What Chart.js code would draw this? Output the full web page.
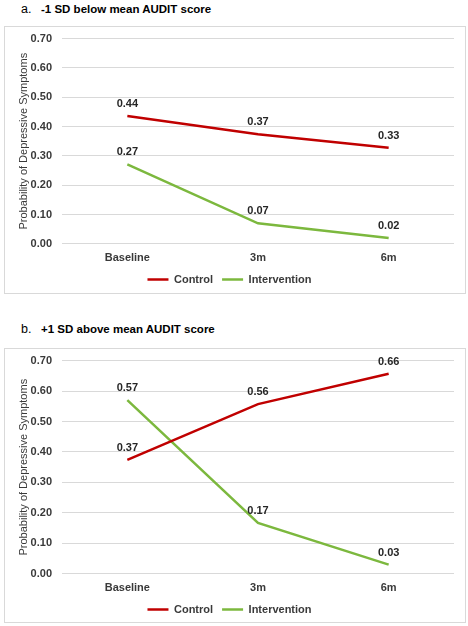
<!DOCTYPE html>
<html>
<head>
<meta charset="utf-8">
<script src="https://cdn.jsdelivr.net/npm/chart.js@4/dist/chart.umd.min.js"></script>
<style>
    body { margin: 0; background: #ffffff; font-family: "Liberation Sans", Arial, sans-serif; }
    #page { position: relative; width: 468px; height: 626px; }
    .panel-title { position: absolute; left: 21px; font-size: 11.5px; font-weight: bold; color: #000; white-space: pre; }
    .panel-title span { font-weight: normal; font-size: 12.5px; }
    .box { position: absolute; left: 4px; width: 460px; border: 1px solid #d9d9d9; }
    canvas { position: absolute; left: 5px; display: block; }
</style>
</head>
<body>
<div id="page">
    <div class="panel-title" style="top: 2px;"><span>a.</span>   -1 SD below mean AUDIT score</div>
    <div class="box" style="top: 26px; height: 266px;"></div>
    <canvas id="chartA" width="460" height="269" style="top: 22px;"></canvas>

    <div class="panel-title" style="top: 322px;"><span>b.</span>   +1 SD above mean AUDIT score</div>
    <div class="box" style="top: 348px; height: 273px;"></div>
    <canvas id="chartB" width="460" height="277" style="top: 344px;"></canvas>
</div>

<script>
// Data
const timepoints = ["Baseline", "3m", "6m"];
const yTicks = [0, 0.1, 0.2, 0.3, 0.4, 0.5, 0.6, 0.7];

// a. -1 SD below mean AUDIT score
const controlLow = [0.436, 0.374, 0.328];
const interventionLow = [0.271, 0.070, 0.020];

// b. +1 SD above mean AUDIT score
const controlHigh = [0.374, 0.557, 0.657];
const interventionHigh = [0.570, 0.167, 0.030];

const controlColor = "#c00000";
const interventionColor = "#7cb83e";
const textColor = "#3a3a3a";
const gridColor = "#d9d9d9";
const fontFamily = "'Liberation Sans', Arial, sans-serif";

// draws the value above every point
const valueLabels = {
    id: "valueLabels",
    afterDatasetsDraw(chart) {
        const ctx = chart.ctx;
        ctx.save();
        ctx.font = "bold 11px " + fontFamily;
        ctx.fillStyle = "#262626";
        ctx.textAlign = "center";
        ctx.textBaseline = "middle";
        chart.data.datasets.forEach((ds, i) => {
            chart.getDatasetMeta(i).data.forEach((pt, j) => {
                ctx.fillText(ds.data[j].toFixed(2), pt.x, pt.y - 12);
            });
        });
        ctx.restore();
    }
};

function makeChart(canvasId, control, intervention) {
    const ctx = document.getElementById(canvasId).getContext("2d");
    return new Chart(ctx, {
        type: "line",
        data: {
            labels: timepoints,
            datasets: [
                { label: "Control", data: control, borderColor: controlColor, backgroundColor: controlColor, borderWidth: 2.5 },
                { label: "Intervention", data: intervention, borderColor: interventionColor, backgroundColor: interventionColor, borderWidth: 2.5 }
            ]
        },
        options: {
            responsive: false,
            animation: false,
            events: [],
            layout: { padding: { top: 6, right: 11, left: 0, bottom: -4 } },
            elements: {
                line: { tension: 0 },
                point: { radius: 0 }
            },
            scales: {
                x: {
                    offset: true,
                    grid: { display: false },
                    border: { display: false },
                    ticks: { color: textColor, font: { family: fontFamily, size: 11, weight: "bold" }, padding: 0 }
                },
                y: {
                    min: 0,
                    max: 0.7,
                    afterBuildTicks: axis => { axis.ticks = yTicks.map(v => ({ value: v })); },
                    afterFit: axis => { axis.width = 57; },
                    grid: { color: gridColor, drawTicks: false },
                    border: { display: false },
                    ticks: {
                        color: textColor,
                        padding: 10,
                        font: { family: fontFamily, size: 11, weight: "bold" },
                        callback: v => v.toFixed(2)
                    },
                    title: {
                        display: true,
                        text: "Probability of Depressive Symptoms",
                        color: textColor,
                        font: { family: fontFamily, size: 11 },
                        padding: { top: 12, bottom: 0 }
                    }
                }
            },
            plugins: {
                legend: {
                    position: "bottom",
                    labels: {
                        usePointStyle: true,
                        pointStyle: "line",
                        pointStyleWidth: 21,
                        padding: 9,
                        color: textColor,
                        font: { family: fontFamily, size: 11, weight: "bold" }
                    }
                },
                tooltip: { enabled: false }
            }
        },
        plugins: [valueLabels]
    });
}

makeChart("chartA", controlLow, interventionLow);
makeChart("chartB", controlHigh, interventionHigh);
</script>
</body>
</html>
